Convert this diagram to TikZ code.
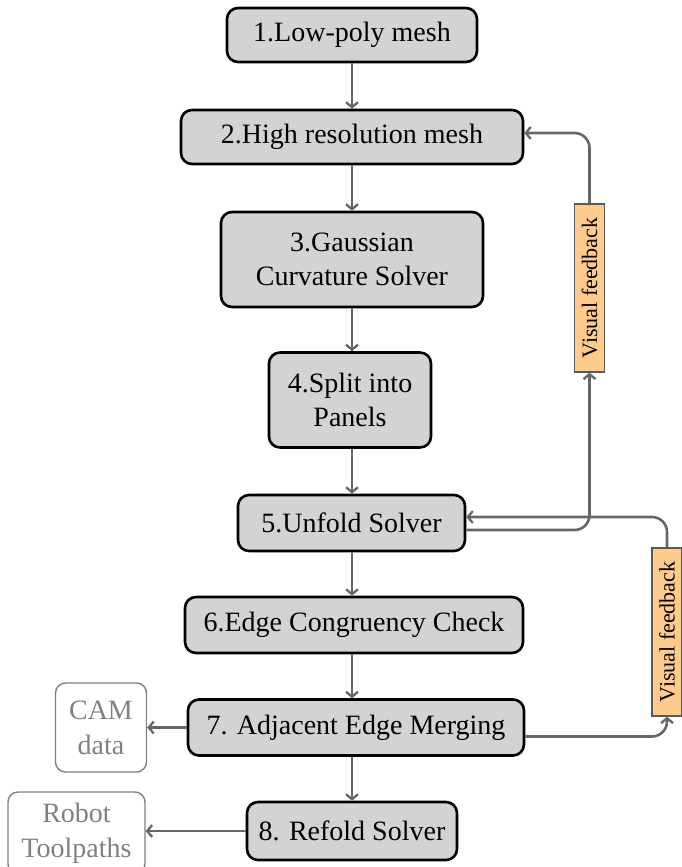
\documentclass[tikz,border=0pt]{standalone}
\usepackage{fontspec}
\IfFontExistsTF{Liberation Serif}{\setmainfont{Liberation Serif}}{\setmainfont{Latin Modern Roman}}
\usetikzlibrary{arrows.meta,positioning,calc}
\definecolor{boxfill}{HTML}{D3D3D3}
\definecolor{vffill}{HTML}{FFCB8C}
\definecolor{conncol}{HTML}{666666}
\definecolor{outcol}{HTML}{808080}
\begin{document}
\begin{tikzpicture}[x=1pt,y=-1pt,
  stepbox/.style={draw=black,line width=2.6pt,fill=boxfill,rounded corners=11pt,
    align=center,inner sep=0pt,font=\rmfamily\fontsize{28}{34}\selectfont},
  outbox/.style={draw=outcol,line width=1.4pt,rounded corners=10pt,text=outcol,
    align=center,inner sep=0pt,font=\rmfamily\fontsize{28}{35}\selectfont},
  vfbox/.style={draw=black!65,line width=1.3pt,fill=vffill,inner sep=0pt,
    minimum width=30pt,minimum height=168pt,font=\rmfamily\fontsize{22}{26}\selectfont},
  conn/.style={draw=conncol,line width=2.6pt,rounded corners=15pt,
    -{Straight Barb[length=5pt,width=12pt,line width=2.3pt]}}]
\useasboundingbox (0,0) rectangle (681,867);

\node[stepbox,minimum width=250pt,minimum height=54pt] (b1) at (352,35) {1.Low-poly mesh};
\node[stepbox,minimum width=342pt,minimum height=54pt] (b2) at (352,137) {2.High resolution mesh};
\node[stepbox,minimum width=262pt,minimum height=95pt] (b3) at (352,259.5) {3.Gaussian\\Curvature Solver};
\node[stepbox,minimum width=162pt,minimum height=95pt] (b4) at (350,400) {4.Split into\\Panels};
\node[stepbox,minimum width=227pt,minimum height=56pt] (b5) at (351.5,523) {5.Unfold Solver};
\node[stepbox,minimum width=338pt,minimum height=56pt] (b6) at (354,625) {6.Edge Congruency Check};
\node[stepbox,minimum width=336pt,minimum height=56pt] (b7) at (356,727.5) {7. Adjacent Edge Merging};
\node[stepbox,minimum width=210pt,minimum height=58pt] (b8) at (352,831) {8. Refold Solver};

\node[outbox,minimum width=91pt,minimum height=89pt] (cam) at (101,727.5) {CAM\\data};
\node[outbox,minimum width=137pt,minimum height=82pt] (robot) at (76.5,833) {Robot\\Toolpaths};

\node[vfbox] (vf1) at (589.5,288) {\rotatebox{90}{Visual feedback}};
\node[vfbox] (vf2) at (667,632) {\rotatebox{90}{Visual feedback}};

\draw[conn] (b1.south) -- (b1.south |- b2.north);
\draw[conn] (b2.south) -- (b2.south |- b3.north);
\draw[conn] (b3.south) -- (b3.south |- b4.north);
\draw[conn] (b3.south |- b4.south) -- (b3.south |- b5.north);
\draw[conn] (b3.south |- b5.south) -- (b3.south |- b6.north);
\draw[conn] (b3.south |- b6.south) -- (b3.south |- b7.north);
\draw[conn] (b3.south |- b7.south) -- (b3.south |- b8.north);

\draw[conn] (b7.west) -- (b7.west -| cam.east);
\draw[conn] (b8.west) -- (b8.west -| robot.east);

\draw[conn] ([yshift=-7pt]b5.east) -| (vf1.south);
\draw[conn] (vf1.north) |- ([yshift=4pt]b2.east);
\draw[conn] ([yshift=-9pt]b7.east) -| (vf2.south);
\draw[conn] (vf2.north) |- ([yshift=6pt]b5.east);
\end{tikzpicture}
\end{document}
